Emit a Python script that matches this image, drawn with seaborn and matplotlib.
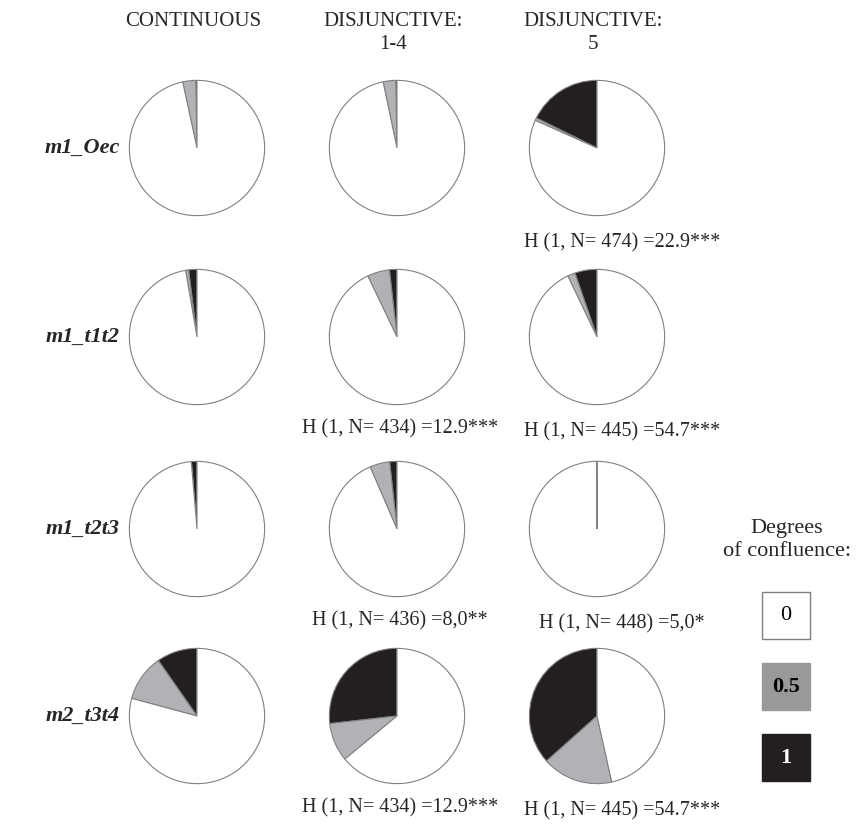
import seaborn as sns
import matplotlib.pyplot as plt
from matplotlib.patches import Rectangle

rows = ['m1_Oec', 'm1_t1t2', 'm1_t2t3', 'm2_t3t4']
columns = ['CONTINUOUS', 'DISJUNCTIVE:\n1-4', 'DISJUNCTIVE:\n5']
degrees = ['0', '0.5', '1']

# percentage of cases with degree 1 and 0.5 (rest is degree 0), rows x columns
share_1 = [[0.3, 0.3, 17.7],
           [2.0, 1.8, 5.3],
           [1.35, 1.75, 0.05],
           [9.7, 26.8, 36.6]]
share_05 = [[3.1, 3.0, 0.6],
            [0.7, 5.3, 1.8],
            [0.0, 4.75, 0.0],
            [11.1, 9.2, 16.9]]

stats = [[None, None, 'H (1, N= 474) =22.9***'],
         [None, 'H (1, N= 434) =12.9***', 'H (1, N= 445) =54.7***'],
         [None, 'H (1, N= 436) =8,0**', 'H (1, N= 448) =5,0*'],
         [None, 'H (1, N= 434) =12.9***', 'H (1, N= 445) =54.7***']]

sns.set_theme(style='white')
plt.rcParams['font.family'] = ['Liberation Serif', 'DejaVu Serif']

W, H = 863, 825
fig = plt.figure(figsize=(W / 100, H / 100), dpi=100)
fig.patch.set_facecolor('white')

black = '#231f20'
grey = '#b1b2b5'
white = '#ffffff'
edge = '#808080'

col_x = [197, 397, 597]
stat_x = [197, 400, 622]
row_y = [148, 337, 529, 716]
r = 69


def fx(x):
    return x / W


def fy(y):
    return 1 - y / H


for i, name in enumerate(rows):
    fig.text(fx(120), fy(row_y[i]), name, ha='right', va='center',
             fontsize=16, style='italic', fontweight='bold')
    for j in range(len(columns)):
        ax = fig.add_axes([fx(col_x[j] - r), fy(row_y[i] + r), 2 * r / W, 2 * r / H])
        b = share_1[i][j]
        g = share_05[i][j]
        ax.pie([b, g, 100 - b - g], colors=[black, grey, white], startangle=90,
               counterclock=True,
               wedgeprops=dict(edgecolor=edge, linewidth=0.8))
        ax.set_xlim(-1.02, 1.02)
        ax.set_ylim(-1.02, 1.02)
        ax.set_aspect('auto')
        ax.axis('off')
        if stats[i][j]:
            fig.text(fx(stat_x[j]), fy(row_y[i] + 92 + 3 * (j == 2)), stats[i][j],
                     ha='center', va='center', fontsize=14.5)

for j, c in enumerate(columns):
    fig.text(fx(col_x[j] - 4), fy(12), c, ha='center', va='top', fontsize=15,
             linespacing=1.3)

# legend
fig.text(fx(787), fy(540), 'Degrees\nof confluence:', ha='center', va='center',
         fontsize=16, linespacing=1.25)
box_fill = [white, '#999999', black]
box_edge = [edge, '#999999', black]
text_col = ['black', 'black', 'white']
weights = ['normal', 'bold', 'bold']
for k, d in enumerate(degrees):
    top = 592 + 71 * k
    fig.add_artist(Rectangle((fx(762), fy(top + 47)), 48 / W, 47 / H,
                             transform=fig.transFigure, facecolor=box_fill[k],
                             edgecolor=box_edge[k], linewidth=1))
    fig.text(fx(786), fy(top + 24), d, ha='center', va='center', fontsize=16,
             color=text_col[k], fontweight=weights[k])

fig.savefig('out.png', dpi=100, facecolor='white')
